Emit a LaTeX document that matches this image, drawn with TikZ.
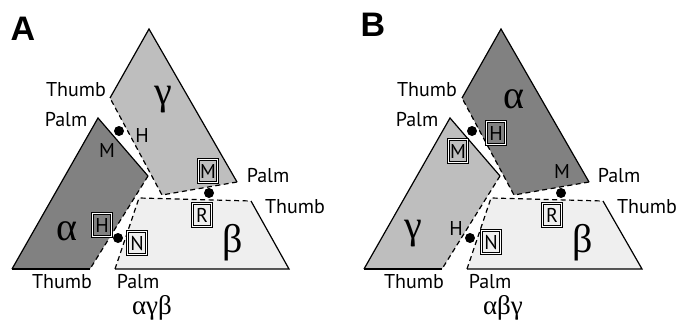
\documentclass[tikz,border=0pt]{standalone}
\usepackage{fontspec}
\setmainfont{Liberation Sans}
\newfontfamily\grk{Liberation Serif}
\newfontfamily\lab{PT Sans}
\begin{document}
\begin{tikzpicture}[x=1pt,y=-1pt,
  edge/.style={line width=1.2pt,line join=miter},
  dsh/.style={line width=1.2pt,dash pattern=on 5pt off 3.5pt},
  lbl/.style={anchor=base,inner sep=0pt,font=\lab\fontsize{20}{20}\selectfont},
  grklbl/.style={anchor=base,inner sep=0pt,font=\grk\fontsize{40}{40}\selectfont},
  botlbl/.style={anchor=base,inner sep=0pt,font=\grk\fontsize{27}{27}\selectfont},
  panel/.style={inner sep=0pt,font=\bfseries\fontsize{34}{34}\selectfont},
  boxl/.style={draw=black,double=white,double distance=0.7pt,line width=0.8pt,inner sep=1.5pt,
    text height=14pt,text depth=0pt,minimum width=19pt,minimum height=23pt,
    font=\lab\fontsize{20}{20}\selectfont},
  dot/.style={circle,fill=black,inner sep=0pt,minimum size=10pt}]
\useasboundingbox (0,0) rectangle (680,321);
\definecolor{dk}{HTML}{818181}
\definecolor{md}{HTML}{BEBEBE}
\definecolor{lt}{HTML}{EFEFEF}

% ---------- Panel A ----------
\fill[md] (149,29) -- (237,182) -- (162,195) -- (110,98) -- cycle;
\draw[edge] (110,98) -- (149,29) -- (237,182);
\draw[dsh] (237,182) -- (162,195) -- (110,98);
\fill[dk] (98,118) -- (148,176) -- (90,269) -- (12,269) -- cycle;
\draw[edge] (12,269) -- (98,118) -- (148,176);
\draw[dsh] (148,176) -- (90,269);
\draw[edge] (90,269) -- (12,269);
\fill[lt] (139,198) -- (251,201) -- (289,269) -- (115,269) -- cycle;
\draw[dsh] (115,269) -- (139,198) -- (251,201);
\draw[edge] (251,201) -- (289,269) -- (115,269);

\node[dot] (a1) at (119,131) {};
\node[dot] (a2) at (209,193) {};
\node[dot] (a3) at (118,238) {};

\node[panel] (pA) at (23,29) {A};
\node[lbl] (aT1) at (76,96) {Thumb};
\node[lbl] (aP1) at (66,126) {Palm};
\node[lbl] (aH) at (142,142) {H};
\node[lbl] (aM) at (107,157) {M};
\node[grklbl] (ag) at (163,104) {γ};
\node[boxl] (aMb) at (208,171) {M};
\node[lbl] (aP2) at (268,182) {Palm};
\node[lbl] (aT2) at (295,213) {Thumb};
\node[boxl] (aRb) at (202,215) {R};
\node[grklbl] (aa) at (67,240) {α};
\node[boxl] (aHb) at (102,225) {H};
\node[boxl] (aNb) at (137,243) {N};
\node[grklbl] (ab) at (233,252) {β};
\node[lbl] (aT3) at (62,288) {Thumb};
\node[lbl] (aP3) at (138,288) {Palm};
\node[botlbl] (aord) at (152,314) {αγβ};

% ---------- Panel B ----------
\begin{scope}[xshift=352pt]
\fill[dk] (149,29) -- (237,182) -- (162,195) -- (110,98) -- cycle;
\draw[edge] (110,98) -- (149,29) -- (237,182);
\draw[dsh] (237,182) -- (162,195) -- (110,98);
\fill[md] (98,118) -- (148,176) -- (90,269) -- (12,269) -- cycle;
\draw[edge] (12,269) -- (98,118) -- (148,176);
\draw[dsh] (148,176) -- (90,269);
\draw[edge] (90,269) -- (12,269);
\fill[lt] (139,198) -- (251,201) -- (290,269) -- (115,269) -- cycle;
\draw[dsh] (115,269) -- (139,198) -- (251,201);
\draw[edge] (251,201) -- (290,269) -- (115,269);
\end{scope}

\node[dot] (b1) at (472,131) {};
\node[dot] (b2) at (561,193) {};
\node[dot] (b3) at (470,238) {};

\node[panel] (pB) at (373,25) {B};
\node[lbl] (bT1) at (427,96) {Thumb};
\node[lbl] (bP1) at (417,126) {Palm};
\node[grklbl] (ba) at (514,108) {α};
\node[boxl] (bHb) at (496,133) {H};
\node[boxl] (bMb) at (458,151) {M};
\node[lbl] (bM) at (562,178) {M};
\node[lbl] (bP2) at (619,182) {Palm};
\node[lbl] (bT2) at (647,213) {Thumb};
\node[boxl] (bRb) at (552,215) {R};
\node[grklbl] (bg) at (413,238) {γ};
\node[lbl] (bH) at (456,235) {H};
\node[boxl] (bNb) at (491,242) {N};
\node[grklbl] (bb) at (583,252) {β};
\node[lbl] (bT3) at (414,288) {Thumb};
\node[lbl] (bP3) at (490,288) {Palm};
\node[botlbl] (bord) at (503,314) {αβγ};
\end{tikzpicture}
\end{document}
